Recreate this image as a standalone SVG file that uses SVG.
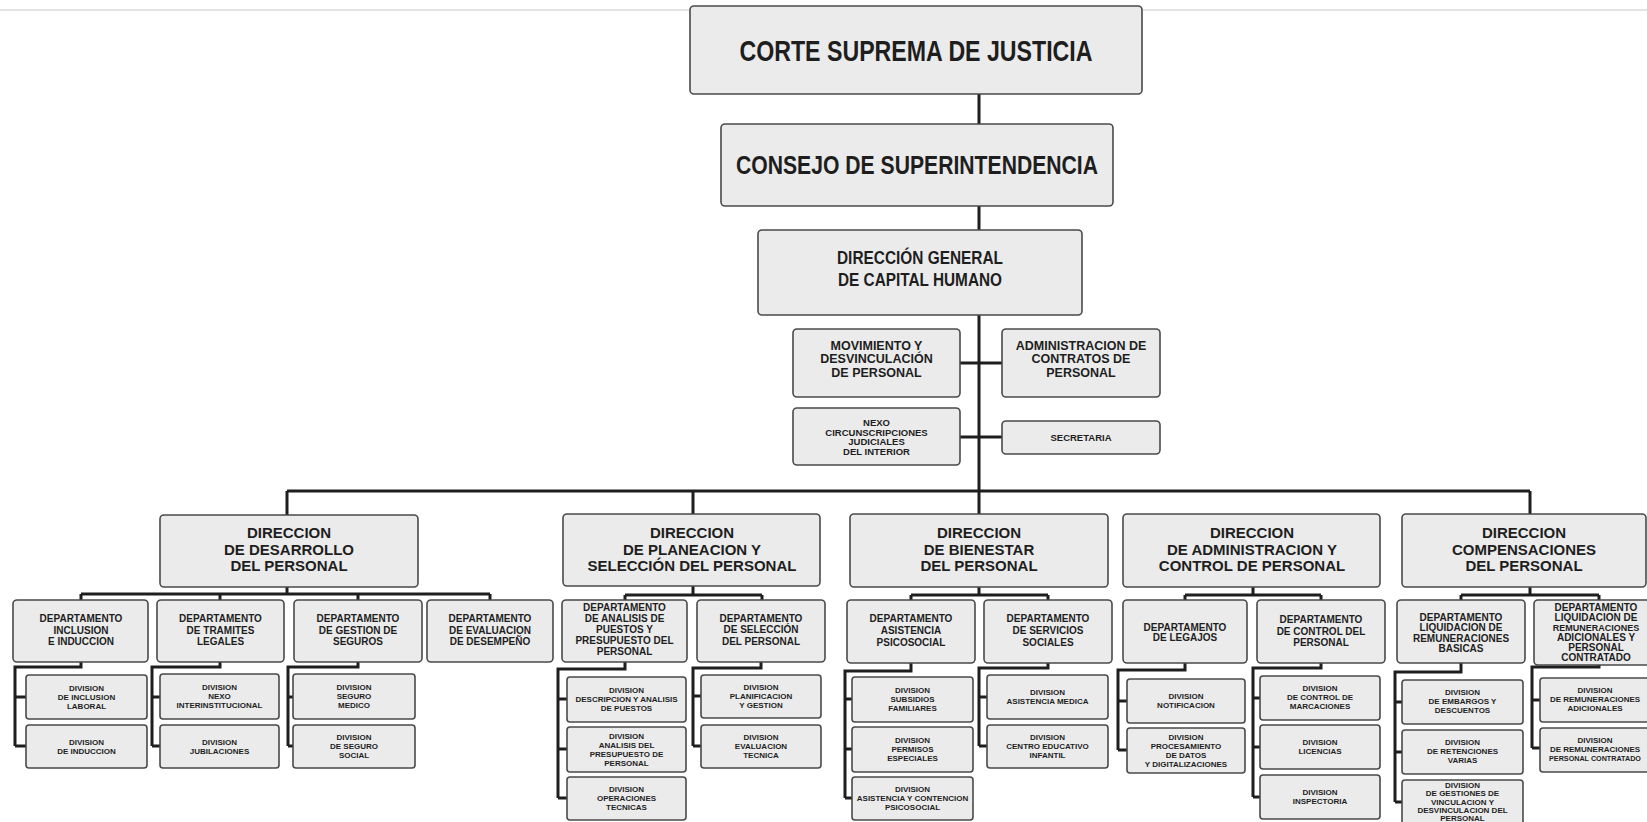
<svg xmlns="http://www.w3.org/2000/svg" width="1647" height="822" viewBox="0 0 1647 822">
<style>
.box{fill:#ebebeb;stroke:#4a4a4a;stroke-width:1.6}
text{font-family:"Liberation Sans",Arial,sans-serif;font-weight:bold;fill:#1e1e1e;text-anchor:middle}
.f1{font-size:30px}
.f2{font-size:25px}
.f3{font-size:19px}
.f4{font-size:12.5px}
.f5{font-size:9.5px}
.fd{font-size:15px}
.fp{font-size:10px}
.fv{font-size:8px}
.fs{font-size:7.2px}
.conn{fill:none;stroke:#1e1e1e;stroke-width:3}
.scan{fill:none;stroke:#e4e4e4;stroke-width:2}
</style>
<rect width="1647" height="822" fill="#ffffff"/>
<path class="scan" d="M0,10H690M1142,10H1647"/>
<g id="connectors" class="conn">
<path d="M979,94V124M979,206V230M979,315V514M960,363H1002M960,437H1002"/>
<path d="M287,491H1530M287,491V515M693,491V514M1530,491V514"/>
<path d="M287,587V594M81,594H490M81,594V600M220,594V600M358,594V600M490,594V600"/>
<path d="M693,586V595M625,595H762M625,595V600M762,595V600"/>
<path d="M979,587V595M911,595H1048M911,595V600M1048,595V600"/>
<path d="M1253,587V595M1185,595H1321M1185,595V600M1321,595V600"/>
<path d="M1530,587V595M1461,595H1599M1461,595V600M1599,595V600"/>
<path d="M81,662V667H15V746M15,697H26M15,746H26"/>
<path d="M220,662V667H152V746M152,697H160M152,746H160"/>
<path d="M358,662V667H288V746M288,697H293M288,746H293"/>
<path d="M625,662V669H558V798M558,699H567M558,749H567M558,798H567"/>
<path d="M761,662V668H693V746M693,696H701M693,746H701"/>
<path d="M911,663V671H845V798M845,699H852M845,749H852M845,798H852"/>
<path d="M1048,663V668H979V746M979,697H987M979,746H987"/>
<path d="M1185,663V670H1118V750M1118,701H1127M1118,750H1127"/>
<path d="M1321,663V668H1253V797M1253,698H1260M1253,747H1260M1253,797H1260"/>
<path d="M1461,663V672H1395V802M1395,702H1402M1395,752H1402M1395,802H1402"/>
<path d="M1599,665V667H1532V748M1532,700H1540M1532,748H1540"/>
</g>
<g id="corte"><rect class="box" x="690" y="6" width="452" height="88" rx="4"/><text class="f1" x="916" y="61" textLength="353" lengthAdjust="spacingAndGlyphs">CORTE SUPREMA DE JUSTICIA</text></g>
<g id="consejo"><rect class="box" x="721" y="124" width="392" height="82" rx="4"/><text class="f2" x="917" y="174" textLength="362" lengthAdjust="spacingAndGlyphs">CONSEJO DE SUPERINTENDENCIA</text></g>
<g id="dg"><rect class="box" x="758" y="230" width="324" height="85" rx="4"/><text class="f3" x="920" y="264" textLength="166" lengthAdjust="spacingAndGlyphs">DIRECCIÓN GENERAL</text><text class="f3" x="920" y="286" textLength="164" lengthAdjust="spacingAndGlyphs">DE CAPITAL HUMANO</text></g>
<g id="movimiento"><rect class="box" x="793" y="329" width="167" height="68" rx="4"/><text class="f4" x="876.5" y="349.5">MOVIMIENTO Y</text><text class="f4" x="876.5" y="363">DESVINCULACIÓN</text><text class="f4" x="876.5" y="376.5">DE PERSONAL</text></g>
<g id="admin-contratos"><rect class="box" x="1002" y="329" width="158" height="68" rx="4"/><text class="f4" x="1081" y="349.5">ADMINISTRACION DE</text><text class="f4" x="1081" y="363">CONTRATOS DE</text><text class="f4" x="1081" y="376.5">PERSONAL</text></g>
<g id="nexo"><rect class="box" x="793" y="408" width="167" height="57" rx="4"/><text class="f5" x="876.5" y="426">NEXO</text><text class="f5" x="876.5" y="435.5">CIRCUNSCRIPCIONES</text><text class="f5" x="876.5" y="445">JUDICIALES</text><text class="f5" x="876.5" y="454.5">DEL INTERIOR</text></g>
<g id="secretaria"><rect class="box" x="1002" y="421" width="158" height="33" rx="4"/><text class="f5" x="1081" y="441">SECRETARIA</text></g>
<g id="dir-desarrollo"><rect class="box" x="160" y="515" width="258" height="72" rx="4"/><text class="fd" x="289" y="538">DIRECCION</text><text class="fd" x="289" y="555">DE DESARROLLO</text><text class="fd" x="289" y="571">DEL PERSONAL</text></g>
<g id="dir-planeacion"><rect class="box" x="563" y="514" width="257" height="72" rx="4"/><text class="fd" x="692" y="538">DIRECCION</text><text class="fd" x="692" y="555">DE PLANEACION Y</text><text class="fd" x="692" y="571">SELECCIÓN DEL PERSONAL</text></g>
<g id="dir-bienestar"><rect class="box" x="850" y="514" width="258" height="73" rx="4"/><text class="fd" x="979" y="538">DIRECCION</text><text class="fd" x="979" y="555">DE BIENESTAR</text><text class="fd" x="979" y="571">DEL PERSONAL</text></g>
<g id="dir-administracion"><rect class="box" x="1123" y="514" width="257" height="73" rx="4"/><text class="fd" x="1252" y="538">DIRECCION</text><text class="fd" x="1252" y="555">DE ADMINISTRACION Y</text><text class="fd" x="1252" y="571">CONTROL DE PERSONAL</text></g>
<g id="dir-compensaciones"><rect class="box" x="1402" y="514" width="244" height="73" rx="4"/><text class="fd" x="1524" y="538">DIRECCION</text><text class="fd" x="1524" y="555">COMPENSACIONES</text><text class="fd" x="1524" y="571">DEL PERSONAL</text></g>
<g id="dep-inclusion"><rect class="box" x="13" y="600" width="135" height="62" rx="4"/><text class="fp" x="81" y="622">DEPARTAMENTO</text><text class="fp" x="81" y="634">INCLUSION</text><text class="fp" x="81" y="645">E INDUCCION</text></g>
<g id="dep-tramites"><rect class="box" x="157" y="600" width="127" height="62" rx="4"/><text class="fp" x="220.5" y="621.5">DEPARTAMENTO</text><text class="fp" x="220.5" y="633.5">DE TRAMITES</text><text class="fp" x="220.5" y="644.5">LEGALES</text></g>
<g id="dep-seguros"><rect class="box" x="294" y="600" width="128" height="62" rx="4"/><text class="fp" x="358" y="621.5">DEPARTAMENTO</text><text class="fp" x="358" y="633.5">DE GESTION DE</text><text class="fp" x="358" y="644.5">SEGUROS</text></g>
<g id="dep-evaluacion"><rect class="box" x="427" y="600" width="126" height="62" rx="4"/><text class="fp" x="490" y="621.5">DEPARTAMENTO</text><text class="fp" x="490" y="633.5">DE EVALUACION</text><text class="fp" x="490" y="644.5">DE DESEMPEÑO</text></g>
<g id="dep-analisis"><rect class="box" x="562" y="600" width="125" height="62" rx="4"/><text class="fp" x="624.5" y="610.5">DEPARTAMENTO</text><text class="fp" x="624.5" y="621.5">DE ANALISIS DE</text><text class="fp" x="624.5" y="632.5">PUESTOS Y</text><text class="fp" x="624.5" y="643.5">PRESUPUESTO DEL</text><text class="fp" x="624.5" y="654.5">PERSONAL</text></g>
<g id="dep-seleccion"><rect class="box" x="697" y="600" width="128" height="62" rx="4"/><text class="fp" x="761" y="621.5">DEPARTAMENTO</text><text class="fp" x="761" y="633">DE SELECCIÓN</text><text class="fp" x="761" y="644.5">DEL PERSONAL</text></g>
<g id="dep-asistencia"><rect class="box" x="847" y="600" width="128" height="63" rx="4"/><text class="fp" x="911" y="621.5">DEPARTAMENTO</text><text class="fp" x="911" y="633.5">ASISTENCIA</text><text class="fp" x="911" y="645.5">PSICOSOCIAL</text></g>
<g id="dep-servicios"><rect class="box" x="984" y="600" width="128" height="63" rx="4"/><text class="fp" x="1048" y="621.5">DEPARTAMENTO</text><text class="fp" x="1048" y="633.5">DE SERVICIOS</text><text class="fp" x="1048" y="645.5">SOCIALES</text></g>
<g id="dep-legajos"><rect class="box" x="1123" y="600" width="124" height="63" rx="4"/><text class="fp" x="1185" y="630.5">DEPARTAMENTO</text><text class="fp" x="1185" y="641">DE LEGAJOS</text></g>
<g id="dep-control"><rect class="box" x="1257" y="600" width="128" height="63" rx="4"/><text class="fp" x="1321" y="622.5">DEPARTAMENTO</text><text class="fp" x="1321" y="635">DE CONTROL DEL</text><text class="fp" x="1321" y="645.5">PERSONAL</text></g>
<g id="dep-basicas"><rect class="box" x="1397" y="600" width="128" height="63" rx="4"/><text class="fp" x="1461" y="620.5">DEPARTAMENTO</text><text class="fp" x="1461" y="630.5">LIQUIDACION DE</text><text class="fp" x="1461" y="641.5">REMUNERACIONES</text><text class="fp" x="1461" y="651.5">BASICAS</text></g>
<g id="dep-adicionales"><rect class="box" x="1534" y="600" width="132" height="65" rx="4"/><text class="fp" x="1596" y="610.5">DEPARTAMENTO</text><text class="fp" x="1596" y="620.5">LIQUIDACION DE</text><text class="fp" x="1596" y="630.5" style="font-size:9px">REMUNERACIONES</text><text class="fp" x="1596" y="641">ADICIONALES Y</text><text class="fp" x="1596" y="651">PERSONAL</text><text class="fp" x="1596" y="661">CONTRATADO</text></g>
<g id="div-inclusion-laboral"><rect class="box" x="26" y="675" width="121" height="44" rx="3"/><text class="fv" x="86.5" y="691">DIVISION</text><text class="fv" x="86.5" y="700">DE INCLUSION</text><text class="fv" x="86.5" y="709">LABORAL</text></g>
<g id="div-induccion"><rect class="box" x="26" y="725" width="121" height="43" rx="3"/><text class="fv" x="86.5" y="745">DIVISION</text><text class="fv" x="86.5" y="754">DE INDUCCION</text></g>
<g id="div-nexo-inter"><rect class="box" x="160" y="674" width="119" height="45" rx="3"/><text class="fv" x="219.5" y="690">DIVISION</text><text class="fv" x="219.5" y="699">NEXO</text><text class="fv" x="219.5" y="708">INTERINSTITUCIONAL</text></g>
<g id="div-jubilaciones"><rect class="box" x="160" y="725" width="119" height="43" rx="3"/><text class="fv" x="219.5" y="745">DIVISION</text><text class="fv" x="219.5" y="754">JUBILACIONES</text></g>
<g id="div-seguro-medico"><rect class="box" x="293" y="674" width="122" height="45" rx="3"/><text class="fv" x="354" y="690">DIVISION</text><text class="fv" x="354" y="699">SEGURO</text><text class="fv" x="354" y="708">MEDICO</text></g>
<g id="div-seguro-social"><rect class="box" x="293" y="725" width="122" height="43" rx="3"/><text class="fv" x="354" y="740">DIVISION</text><text class="fv" x="354" y="749">DE SEGURO</text><text class="fv" x="354" y="758">SOCIAL</text></g>
<g id="div-descripcion"><rect class="box" x="567" y="677" width="119" height="45" rx="3"/><text class="fv" x="626.5" y="693">DIVISION</text><text class="fv" x="626.5" y="702">DESCRIPCION Y ANALISIS</text><text class="fv" x="626.5" y="711">DE PUESTOS</text></g>
<g id="div-presupuesto"><rect class="box" x="567" y="727" width="119" height="45" rx="3"/><text class="fv" x="626.5" y="738.5">DIVISION</text><text class="fv" x="626.5" y="747.5">ANALISIS DEL</text><text class="fv" x="626.5" y="756.5">PRESUPUESTO DE</text><text class="fv" x="626.5" y="765.5">PERSONAL</text></g>
<g id="div-operaciones"><rect class="box" x="567" y="777" width="119" height="43" rx="3"/><text class="fv" x="626.5" y="792">DIVISION</text><text class="fv" x="626.5" y="801">OPERACIONES</text><text class="fv" x="626.5" y="810">TECNICAS</text></g>
<g id="div-planificacion"><rect class="box" x="701" y="675" width="120" height="43" rx="3"/><text class="fv" x="761" y="690">DIVISION</text><text class="fv" x="761" y="699">PLANIFICACION</text><text class="fv" x="761" y="708">Y GESTION</text></g>
<g id="div-evaluacion-tecnica"><rect class="box" x="701" y="725" width="120" height="43" rx="3"/><text class="fv" x="761" y="740">DIVISION</text><text class="fv" x="761" y="749">EVALUACION</text><text class="fv" x="761" y="758">TECNICA</text></g>
<g id="div-subsidios"><rect class="box" x="852" y="677" width="121" height="45" rx="3"/><text class="fv" x="912.5" y="693">DIVISION</text><text class="fv" x="912.5" y="702">SUBSIDIOS</text><text class="fv" x="912.5" y="711">FAMILIARES</text></g>
<g id="div-permisos"><rect class="box" x="852" y="727" width="121" height="45" rx="3"/><text class="fv" x="912.5" y="743">DIVISION</text><text class="fv" x="912.5" y="752">PERMISOS</text><text class="fv" x="912.5" y="761">ESPECIALES</text></g>
<g id="div-contencion"><rect class="box" x="852" y="777" width="121" height="43" rx="3"/><text class="fv" x="912.5" y="792">DIVISION</text><text class="fv" x="912.5" y="801">ASISTENCIA Y CONTENCION</text><text class="fv" x="912.5" y="810">PSICOSOCIAL</text></g>
<g id="div-asistencia-medica"><rect class="box" x="987" y="675" width="121" height="44" rx="3"/><text class="fv" x="1047.5" y="695">DIVISION</text><text class="fv" x="1047.5" y="704">ASISTENCIA MEDICA</text></g>
<g id="div-centro-educativo"><rect class="box" x="987" y="725" width="121" height="43" rx="3"/><text class="fv" x="1047.5" y="740">DIVISION</text><text class="fv" x="1047.5" y="749">CENTRO EDUCATIVO</text><text class="fv" x="1047.5" y="758">INFANTIL</text></g>
<g id="div-notificacion"><rect class="box" x="1127" y="679" width="118" height="44" rx="3"/><text class="fv" x="1186" y="699">DIVISION</text><text class="fv" x="1186" y="708">NOTIFICACION</text></g>
<g id="div-procesamiento"><rect class="box" x="1127" y="728" width="118" height="45" rx="3"/><text class="fv" x="1186" y="739.5">DIVISION</text><text class="fv" x="1186" y="748.5">PROCESAMIENTO</text><text class="fv" x="1186" y="757.5">DE DATOS</text><text class="fv" x="1186" y="766.5">Y DIGITALIZACIONES</text></g>
<g id="div-marcaciones"><rect class="box" x="1260" y="676" width="120" height="44" rx="3"/><text class="fv" x="1320" y="691">DIVISION</text><text class="fv" x="1320" y="700">DE CONTROL DE</text><text class="fv" x="1320" y="709">MARCACIONES</text></g>
<g id="div-licencias"><rect class="box" x="1260" y="725" width="120" height="44" rx="3"/><text class="fv" x="1320" y="745">DIVISION</text><text class="fv" x="1320" y="754">LICENCIAS</text></g>
<g id="div-inspectoria"><rect class="box" x="1260" y="775" width="120" height="44" rx="3"/><text class="fv" x="1320" y="795">DIVISION</text><text class="fv" x="1320" y="804">INSPECTORIA</text></g>
<g id="div-embargos"><rect class="box" x="1402" y="680" width="121" height="44" rx="3"/><text class="fv" x="1462.5" y="695">DIVISION</text><text class="fv" x="1462.5" y="704">DE EMBARGOS Y</text><text class="fv" x="1462.5" y="713">DESCUENTOS</text></g>
<g id="div-retenciones"><rect class="box" x="1402" y="730" width="121" height="44" rx="3"/><text class="fv" x="1462.5" y="745">DIVISION</text><text class="fv" x="1462.5" y="754">DE RETENCIONES</text><text class="fv" x="1462.5" y="763">VARIAS</text></g>
<g id="div-gestiones"><rect class="box" x="1402" y="780" width="121" height="46" rx="3"/><text class="fv" x="1462.5" y="787.5">DIVISION</text><text class="fv" x="1462.5" y="796">DE GESTIONES DE</text><text class="fv" x="1462.5" y="804.5">VINCULACION Y</text><text class="fv" x="1462.5" y="813">DESVINCULACION DEL</text><text class="fv" x="1462.5" y="821">PERSONAL</text></g>
<g id="div-rem-adicionales"><rect class="box" x="1540" y="678" width="120" height="44" rx="3"/><text class="fv" x="1595" y="693">DIVISION</text><text class="fv" x="1595" y="702">DE REMUNERACIONES</text><text class="fv" x="1595" y="711">ADICIONALES</text></g>
<g id="div-rem-contratado"><rect class="box" x="1540" y="728" width="120" height="44" rx="3"/><text class="fv" x="1595" y="743">DIVISION</text><text class="fv" x="1595" y="752">DE REMUNERACIONES</text><text class="fs" x="1595" y="761">PERSONAL CONTRATADO</text></g>
</svg>
